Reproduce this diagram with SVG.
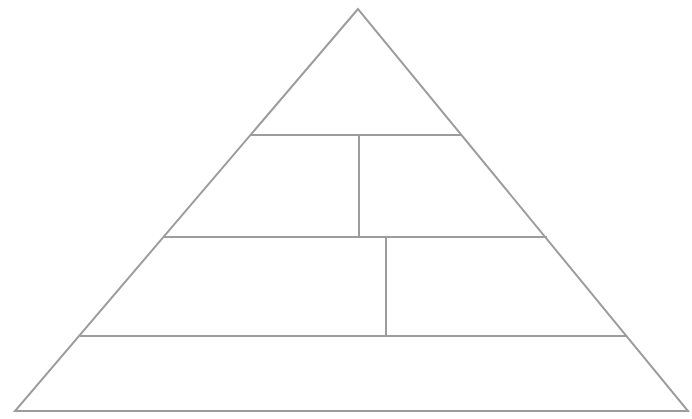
<svg xmlns="http://www.w3.org/2000/svg" width="692" height="419" viewBox="0 0 692 419">
<style>.l{stroke:#9c9c9c;stroke-width:2;fill:none}</style>
<rect width="692" height="419" fill="#ffffff"/>
<g id="pyramid">
<polygon class="l" points="358,9 15,411 688,411"/>
</g>
<g id="connectors">
<line class="l" x1="251" y1="135" x2="462" y2="135"/>
<line class="l" x1="164" y1="237" x2="547" y2="237"/>
<line class="l" x1="80" y1="336" x2="626" y2="336"/>
<line class="l" x1="359" y1="135" x2="359" y2="237"/>
<line class="l" x1="386" y1="237" x2="386" y2="336"/>
</g>
</svg>
